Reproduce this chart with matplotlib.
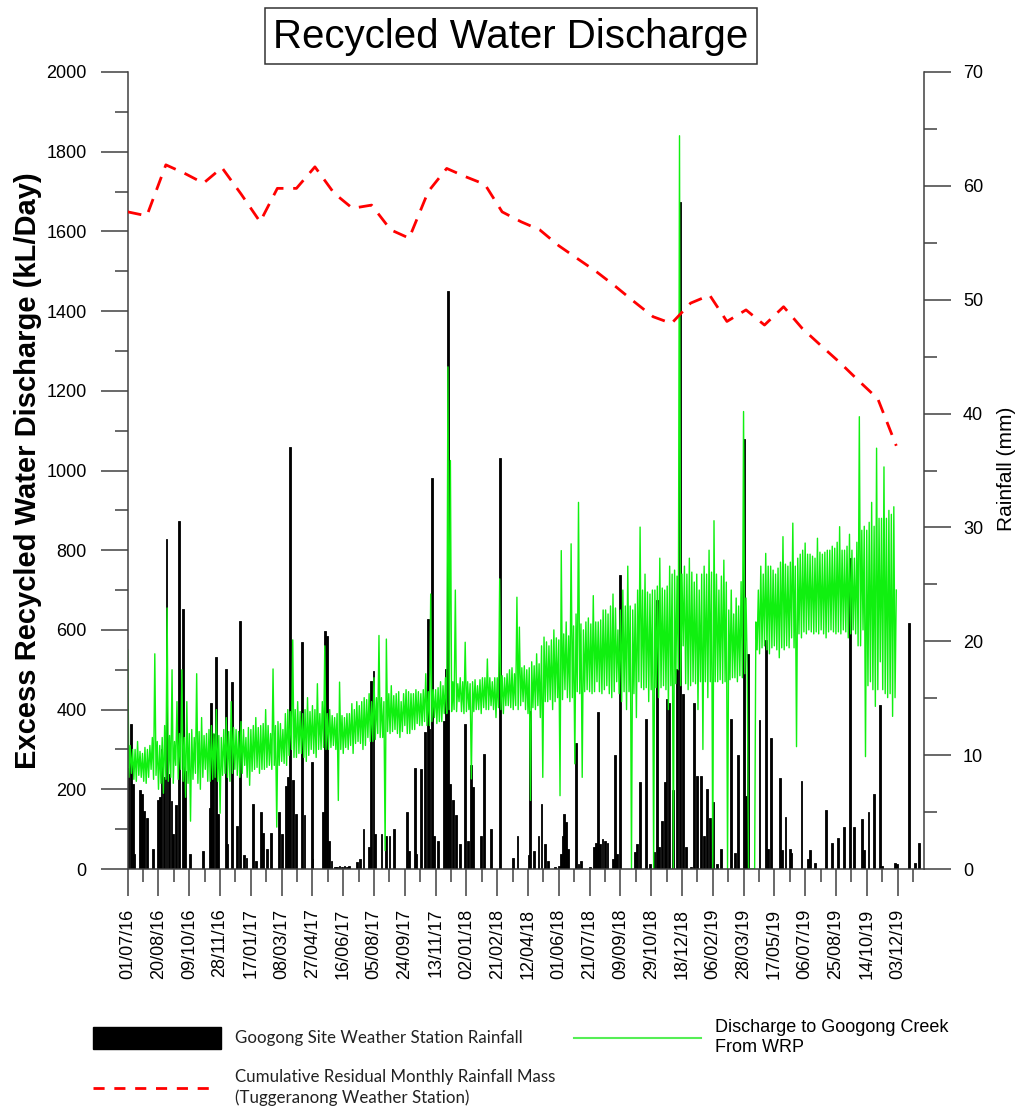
import matplotlib
matplotlib.use('Agg')
import matplotlib.pyplot as plt
import matplotlib.dates as mdates
from matplotlib.ticker import MultipleLocator, FixedLocator
from matplotlib.lines import Line2D
from matplotlib.patches import Rectangle
import pandas as pd

start = pd.Timestamp('2016-07-01')

# daily rainfall at the Googong site (days after 01/07/16, mm)
rain_day = [1, 5, 9, 11, 20, 23, 27, 32, 41, 49,
            52, 55, 59, 63, 67, 71, 74, 78, 83, 90,
            93, 101, 122, 133, 135, 139, 143, 147, 160, 162,
            169, 177, 182, 189, 193, 204, 209, 216, 220, 226,
            232, 245, 250, 257, 260, 264, 268, 273, 283, 287,
            299, 300, 317, 320, 324, 327, 331, 336, 340, 344,
            348, 352, 356, 360, 372, 377, 383, 392, 395, 399,
            402, 412, 420, 425, 432, 454, 457, 466, 469, 476,
            483, 487, 490, 494, 498, 504, 514, 517, 520, 523,
            528, 533, 539, 548, 553, 557, 561, 573, 579, 590,
            605, 625, 633, 651, 653, 660, 667, 672, 678, 682,
            694, 700, 703, 706, 709, 712, 715, 728, 732, 736,
            751, 757, 761, 763, 767, 771, 775, 779, 788, 791,
            795, 799, 824, 827, 832, 842, 848, 854, 859, 863,
            868, 872, 875, 879, 886, 892, 897, 902, 907, 914,
            919, 924, 931, 936, 941, 945, 950, 957, 964, 979,
            986, 991, 1001, 1004, 1007, 1026, 1037, 1040, 1044, 1059,
            1063, 1068, 1075, 1077, 1094, 1104, 1108, 1116, 1134, 1144,
            1153, 1163, 1173, 1179, 1192, 1196, 1203, 1212, 1221, 1225,
            1246, 1249, 1268, 1279, 1285]
rain_mm = [8.9, 12.7, 7.5, 1.3, 6.9, 6.6, 5.1, 4.5, 1.8, 6.1,
           6.3, 10.5, 8.1, 29.0, 8.3, 6.0, 3.1, 5.6, 30.6, 22.8,
           8.6, 1.3, 1.6, 5.4, 14.6, 11.9, 18.6, 4.8, 17.6, 2.2,
           16.4, 3.8, 21.8, 1.2, 1.0, 5.7, 0.7, 5.0, 3.2, 1.8,
           3.2, 5.0, 3.1, 7.3, 8.1, 37.1, 7.8, 4.8, 19.9, 4.7,
           9.4, 0.9, 5.0, 20.9, 20.5, 2.5, 0.7, 0.2, 0.2, 0.3,
           0.2, 0.3, 0.2, 0.3, 0.6, 0.9, 3.5, 1.9, 16.5, 17.4,
           3.1, 3.1, 2.9, 2.9, 3.5, 5.0, 1.6, 8.9, 1.3, 8.8,
           12.0, 22.0, 12.3, 34.3, 2.9, 2.5, 13.0, 17.6, 50.8, 7.5,
           6.1, 4.7, 2.2, 12.7, 2.5, 9.1, 7.2, 2.9, 10.1, 3.5,
           36.1, 1.0, 2.9, 1.2, 13.9, 1.6, 2.9, 5.7, 2.2, 0.7,
           0.2, 0.3, 1.3, 2.9, 4.8, 4.1, 1.8, 11.1, 0.4, 0.7,
           0.2, 1.9, 2.3, 13.8, 2.2, 2.6, 2.5, 2.3, 0.9, 10.0,
           1.3, 25.8, 1.5, 2.2, 7.6, 13.2, 0.4, 1.5, 23.6, 1.9,
           4.2, 7.6, 14.9, 14.6, 6.9, 17.6, 58.6, 15.4, 1.9, 0.2,
           14.6, 8.2, 8.2, 2.9, 7.0, 4.5, 5.9, 0.4, 1.8, 13.2,
           1.4, 10.0, 37.8, 6.4, 18.9, 13.1, 20.1, 1.8, 11.5, 8.0,
           1.7, 4.6, 1.8, 1.4, 7.7, 0.9, 1.7, 0.5, 5.2, 2.3,
           2.7, 3.7, 27.3, 3.7, 4.4, 1.7, 5.0, 6.6, 14.4, 0.3,
           0.5, 0.4, 21.6, 0.5, 2.3]

# discharge to Googong Creek from the WRP (kL/day), one reading every 2 days from 01/07/16
discharge_2016 = [550, 230, 310, 240, 300, 225, 300, 220, 320, 235, 295, 230, 290, 220, 305, 215, 300, 230, 310, 250, 330, 225, 540, 235, 320, 200,
                  310, 215, 330, 190, 360, 225, 655, 220, 335, 230, 500, 215, 320, 260, 420, 225, 340, 250, 500, 220, 330, 180, 420, 215,
                  340, 120, 350, 225, 330, 240, 490, 215, 345, 200, 380, 230, 335, 250, 340, 220, 350, 220, 360, 225, 340, 230, 400, 220, 335, 140,
                  330, 235, 350, 240, 380, 230, 345, 220, 420, 240, 355, 250, 350, 235, 345, 230, 370, 240, 350, 260, 330, 230, 355, 210, 350, 245]
discharge_2017 = [360, 250, 380, 255, 355, 240, 360, 250, 365, 250, 400, 255, 360, 260, 340, 250, 502, 260, 360, 105, 370, 260, 365, 270, 350, 265,
                  390, 260, 400, 285, 395, 300, 575, 280, 400, 280, 420, 290, 395, 290, 390, 280, 400, 270, 430, 285, 395, 300, 410, 290, 400, 280,
                  465, 300, 390, 300, 420, 305, 560, 300, 390, 300, 400, 305, 385, 310, 380, 300, 390, 172, 469, 300, 385, 290, 380, 305, 390, 300,
                  390, 310, 415, 290, 400, 315, 420, 320, 410, 315, 420, 300, 430, 310, 425, 330, 440, 320, 420, 320, 480, 325, 430, 340, 586, 330,
                  430, 330, 420, 46, 577, 345, 440, 340, 460, 345, 435, 350, 440, 340, 445, 330, 420, 345, 440, 360, 450, 340, 445, 340, 440, 350,
                  440, 350, 450, 365, 445, 360, 440, 360, 450, 370, 490, 360, 445, 360, 690, 370, 450, 380, 450, 365, 455, 370, 470, 370, 460, 390]
discharge_2018 = [480, 390, 1260, 400, 1025, 395, 470, 400, 700, 395, 465, 420, 480, 395, 470, 390, 569, 395, 470, 400, 465, 226, 470, 395, 475, 400,
                  460, 400, 475, 390, 480, 405, 480, 400, 527, 400, 480, 410, 470, 400, 480, 380, 480, 405, 728, 400, 485, 390, 480, 410, 490, 410,
                  500, 405, 505, 400, 490, 410, 682, 400, 607, 410, 505, 420, 510, 400, 500, 390, 505, 172, 520, 405, 510, 400, 540, 410, 515, 380,
                  560, 230, 582, 420, 570, 420, 560, 425, 575, 400, 600, 420, 580, 430, 575, 184, 799, 425, 590, 450, 620, 430, 585, 420, 816, 430,
                  610, 264, 640, 445, 920, 440, 615, 230, 600, 445, 620, 450, 630, 445, 615, 440, 686, 445, 620, 470, 620, 445, 625, 440, 650, 450,
                  650, 460, 640, 440, 660, 430, 690, 445, 655, 470, 600, 440, 650, 420, 700, 445, 660, 400, 760, 445, 660, 0, 650, 440, 665, 380,
                  700, 470, 858, 455, 700, 450, 740, 455, 695, 420, 690, 450, 700, 0, 700, 455, 710, 430, 780, 455, 705, 460, 700, 450, 710, 400]
discharge_2019 = [760, 460, 740, 0, 750, 465, 735, 500, 1840, 460, 740, 560, 760, 465, 740, 450, 780, 460, 745, 470, 720, 465, 740, 400, 700, 470,
                  740, 300, 760, 470, 740, 430, 800, 470, 745, 0, 874, 470, 740, 470, 700, 475, 735, 466, 775, 470, 720, 0, 650, 475, 700, 480,
                  640, 480, 680, 470, 660, 485, 721, 480, 1148, 490, 680, 500, 0, 0, 0, 0, 0, 0, 620, 550, 700, 540, 760, 555, 740, 560,
                  792, 550, 760, 540, 760, 555, 750, 560, 740, 550, 755, 530, 770, 555, 834, 550, 765, 560, 760, 555, 770, 580, 868, 555, 760, 307,
                  780, 590, 790, 580, 800, 595, 818, 590, 790, 600, 790, 595, 785, 590, 780, 595, 830, 590, 795, 600, 790, 590, 795, 580, 800, 595,
                  800, 600, 810, 595, 805, 590, 820, 595, 859, 590, 800, 600, 800, 595, 810, 580, 840, 590, 800, 600, 780, 590, 820, 560, 1135, 560,
                  850, 600, 860, 282, 850, 460, 870, 470, 920, 450, 860, 408, 1056, 450, 880, 520, 880, 450, 1009, 440, 880, 430, 900, 440, 890, 383, 909, 430, 700]

# cumulative residual monthly rainfall mass, Jul 2016 - Dec 2019
rain_mass = [1649, 1639, 1767, 1746, 1721, 1760, 1694, 1624, 1708, 1708, 1762, 1696,
             1658, 1666, 1604, 1583, 1700, 1758, 1737, 1718, 1649, 1624, 1604, 1564,
             1532, 1499, 1462, 1424, 1386, 1369, 1420, 1440, 1374, 1403, 1365, 1411,
             1357, 1313, 1270, 1225, 1180, 1062]

discharge = discharge_2016 + discharge_2017 + discharge_2018 + discharge_2019
discharge_dates = pd.date_range(start, periods=len(discharge), freq='2D')
rain_dates = start + pd.to_timedelta(rain_day, unit='D')
month_dates = pd.date_range(start, periods=len(rain_mass), freq='MS')

plt.rcParams['font.family'] = ['Liberation Sans', 'DejaVu Sans']
axis_col = '#404040'

W, H = 1016, 1109
fig = plt.figure(figsize=(W / 100, H / 100), dpi=100)

def fx(px):
    return px / W

def fy(py):
    return 1 - py / H

ax = fig.add_axes([fx(127.7), fy(869), fx(924) - fx(127.7), fy(72) - fy(869)])
ax2 = ax.twinx()
ax.set_zorder(ax2.get_zorder() + 1)
ax.patch.set_visible(False)

# rainfall bars on the right axis, discharge and rainfall mass on the left
ax2.bar(rain_dates, rain_mm, width=3, color='black', edgecolor='black', linewidth=0.6)
ax.plot(discharge_dates, discharge, color='#10f010', linewidth=1.0, zorder=2)
ax.plot(month_dates, rain_mass, color='#ff0000', linewidth=2.0, dashes=(5, 3.5), zorder=3)

ax.set_xlim(start, start + pd.Timedelta(days=1293))
ax.set_ylim(0, 2000)
ax2.set_ylim(0, 70)

major_days = [start + pd.Timedelta(days=d) for d in range(0, 1251, 50)]
minor_days = [start + pd.Timedelta(days=d) for d in range(25, 1276, 50)]
ax.xaxis.set_major_locator(FixedLocator(mdates.date2num(major_days)))
ax.xaxis.set_minor_locator(FixedLocator(mdates.date2num(minor_days)))
ax.xaxis.set_major_formatter(mdates.DateFormatter('%d/%m/%y'))
ax.yaxis.set_major_locator(MultipleLocator(200))
ax.yaxis.set_minor_locator(MultipleLocator(100))
ax2.yaxis.set_major_locator(MultipleLocator(10))
ax2.yaxis.set_minor_locator(MultipleLocator(5))

for a in (ax, ax2):
    a.spines['top'].set_visible(False)
    for s in a.spines.values():
        s.set_color(axis_col)
        s.set_linewidth(1.1)
    a.tick_params(which='major', length=19.5, width=1.1, color=axis_col, labelsize=13)
    a.tick_params(which='minor', length=9.5, width=1.1, color=axis_col)
ax.spines['right'].set_visible(False)
ax2.spines['left'].set_visible(False)
ax2.spines['bottom'].set_visible(False)
ax.tick_params(axis='x', which='major', labelrotation=90, pad=9)
ax.tick_params(axis='y', which='major', pad=10)
ax2.tick_params(axis='y', which='major', pad=8.5)

# axis titles
fig.text(fx(28), fy(470.5), 'Excess Recycled Water Discharge (kL/Day)', rotation=90,
         ha='center', va='center', fontsize=21, fontweight='bold')
fig.text(fx(1006), fy(469), 'Rainfall (mm)', rotation=90, ha='center', va='center', fontsize=15)

# boxed title
fig.add_artist(Rectangle((fx(265), fy(64)), fx(757) - fx(265), fy(8) - fy(64),
                         transform=fig.transFigure, facecolor='white', edgecolor='#333333', linewidth=1.1))
fig.text(fx(511), fy(37), 'Recycled Water Discharge', ha='center', va='center', fontsize=29)

# legend
legend_font = ['Lato', 'DejaVu Sans']
fig.add_artist(Rectangle((fx(93), fy(1049)), fx(221) - fx(93), fy(1027) - fy(1049),
                         transform=fig.transFigure, facecolor='black', edgecolor='black'))
fig.text(fx(235), fy(1038), 'Googong Site Weather Station Rainfall', ha='left', va='center',
         fontsize=12.2, family=legend_font, color='#222222')
fig.add_artist(Line2D([fx(93), fx(212)], [fy(1088), fy(1088)], transform=fig.transFigure,
                      color='#ff0000', linewidth=2.0, dashes=(4, 3.5)))
fig.text(fx(235), fy(1077), 'Cumulative Residual Monthly Rainfall Mass', ha='left', va='center',
         fontsize=12.2, family=legend_font, color='#222222')
fig.text(fx(235), fy(1098), '(Tuggeranong Weather Station)', ha='left', va='center',
         fontsize=12.2, family=legend_font, color='#222222')
fig.add_artist(Line2D([fx(574), fx(701)], [fy(1038), fy(1038)], transform=fig.transFigure,
                      color='#55ee55', linewidth=1.5))
fig.text(fx(715), fy(1027), 'Discharge to Googong Creek', ha='left', va='center', fontsize=13)
fig.text(fx(715), fy(1047), 'From WRP', ha='left', va='center', fontsize=13)

fig.savefig('out.png', dpi=100)
